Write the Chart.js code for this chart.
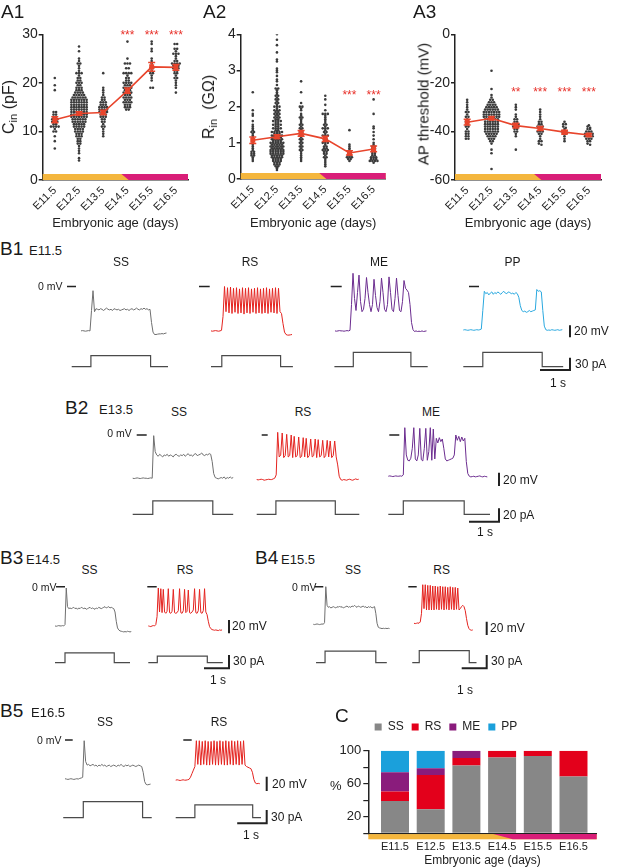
<!DOCTYPE html>
<html>
<head>
<meta charset="utf-8">
<script src="https://cdn.jsdelivr.net/npm/chart.js@4.4.1/dist/chart.umd.min.js"></script>
<style>
  html, body { margin: 0; padding: 0; background: #fff; }
  #fig { position: relative; width: 617px; height: 868px; overflow: hidden;
         font-family: 'Liberation Sans', Arial, sans-serif; color: #1a1a1a; }
  #fig canvas { position: absolute; }
  .t { position: absolute; white-space: nowrap; line-height: 1; }
  .t sub { font-size: 70%; vertical-align: -0.25em; }
</style>
</head>
<body>
<div id="fig"></div>
<script>
Chart.defaults.font.family = "'Liberation Sans', Arial, sans-serif";
Chart.defaults.color = '#222';

const ages = ['E11.5', 'E12.5', 'E13.5', 'E14.5', 'E15.5', 'E16.5'];

// A1 - input capacitance (pF), one array per age
const cin115 = [21, 19.5, 18.5, 14, 14, 13.5, 13.5, 13, 13, 12.5, 12.5, 12.5, 12, 12, 12, 11.5, 11.5, 11, 11, 11, 11, 10.5, 10, 10, 9, 8, 6.5];
const cin125 = [27.5, 26.5, 25, 24.5, 24, 24, 23.5, 23, 22.5, 22, 22, 22, 21.5, 21, 21, 20.5, 20.5, 20, 20, 20, 19.5, 19.5, 19, 19, 19, 18.5, 18.5, 18.5, 18, 18, 18, 18,
  17.5, 17.5, 17.5, 17.5, 17.5, 17, 17, 17, 17, 17, 17, 16.5, 16.5, 16.5, 16.5, 16.5, 16.5, 16.5, 16, 16, 16, 16, 16, 16, 16, 15.5, 15.5, 15.5, 15.5, 15.5, 15.5, 15.5,
  15, 15, 15, 15, 15, 15, 15, 14.5, 14.5, 14.5, 14.5, 14.5, 14.5, 14.5, 14, 14, 14, 14, 14, 14, 14, 13.5, 13.5, 13.5, 13.5, 13.5, 13.5, 13.5, 13, 13, 13, 13, 13, 13, 13,
  12.5, 12.5, 12.5, 12.5, 12.5, 12.5, 12, 12, 12, 12, 12, 12, 11.5, 11.5, 11.5, 11.5, 11.5, 11, 11, 11, 11, 11, 10.5, 10.5, 10.5, 10.5, 10, 10, 10, 10, 9.5, 9.5, 9.5,
  9, 9, 9, 8.5, 8.5, 8, 8, 7.5, 7.5, 7, 6.5, 6, 5.5, 4.5, 4];
const cin135 = [22, 19, 18.5, 18, 17.5, 17, 17, 16.5, 16.5, 16, 16, 16, 15.5, 15.5, 15.5, 15, 15, 15, 15, 14.5, 14.5, 14.5, 14.5, 14, 14, 14, 14, 13.5, 13.5, 13.5, 13, 13, 13, 12.5, 12.5, 12, 12, 11.5, 11, 11, 10.5, 10, 9.5, 9];
const cin145 = [28.5, 25, 24, 24, 24, 23, 23, 22, 22, 22, 22, 21.5, 21, 21, 20.5, 20.5, 20, 20, 20, 20, 19.5, 19.5, 19.5, 19, 19, 19, 19, 18.5, 18.5, 18.5, 18, 18, 18, 18, 17.5, 17.5, 17.5, 17, 17, 17, 17, 16.5, 16.5, 16.5, 16, 16, 16, 16, 15.5, 15.5, 15.5, 15, 15, 15, 14.5, 14.5];
const cin155 = [28.5, 28, 27, 26.5, 25, 24.5, 24, 23.5, 23, 23, 22.5, 22, 22, 21.5, 21, 20.5, 19, 19];
const cin165 = [28, 28, 27, 27, 26.5, 26, 26, 26, 25.5, 25, 24.5, 24.5, 24, 24, 24, 24, 23.5, 23.5, 23.5, 23, 23, 23, 22.5, 22.5, 22, 22, 21.5, 21, 21, 20.5, 20, 19.5, 19, 18];
const cinMean = [12.4, 13.7, 13.9, 18.4, 23.3, 23.2];
const cinSem = [0.6, 0.35, 0.45, 0.55, 0.9, 0.6];
const cinStars = ['', '', '', '***', '***', '***'];

// A2 - input resistance (GOhm)
const rin115 = [2.4, 1.9, 1.8, 1.75, 1.6, 1.5, 1.45, 1.4, 1.35, 1.3, 1.3, 1.25, 1.2, 1.15, 1.1, 1.05, 1.0, 0.95, 0.9, 0.85, 0.8, 0.75, 0.75, 0.7, 0.7, 0.65, 0.65, 0.6, 0.55, 0.5];
const rin125 = [4.0, 3.85, 3.7, 3.5, 3.3, 3.25, 3.05, 3.0, 2.95, 2.85, 2.75, 2.7, 2.6, 2.5, 2.5, 2.45, 2.4, 2.35, 2.3, 2.3, 2.25, 2.2, 2.2, 2.15, 2.1, 2.1, 2.05,
  2.0, 2.0, 2.0, 1.95, 1.9, 1.9, 1.9, 1.85, 1.85, 1.8, 1.8, 1.8, 1.75, 1.75, 1.7, 1.7, 1.7, 1.65, 1.65, 1.6, 1.6, 1.6, 1.6, 1.55, 1.55, 1.5, 1.5, 1.5, 1.5,
  1.45, 1.45, 1.4, 1.4, 1.4, 1.4, 1.35, 1.35, 1.3, 1.3, 1.3, 1.3, 1.3, 1.25, 1.25, 1.25, 1.2, 1.2, 1.2, 1.2, 1.2, 1.15, 1.15, 1.15, 1.15, 1.1, 1.1, 1.1, 1.1, 1.1,
  1.05, 1.05, 1.05, 1.05, 1.0, 1.0, 1.0, 1.0, 1.0, 1.0, 0.95, 0.95, 0.95, 0.95, 0.95, 0.9, 0.9, 0.9, 0.9, 0.9, 0.9, 0.85, 0.85, 0.85, 0.85, 0.85,
  0.8, 0.8, 0.8, 0.8, 0.8, 0.8, 0.75, 0.75, 0.75, 0.75, 0.75, 0.75, 0.7, 0.7, 0.7, 0.7, 0.7, 0.7, 0.65, 0.65, 0.65, 0.65, 0.65, 0.6, 0.6, 0.6, 0.6, 0.6,
  0.55, 0.55, 0.55, 0.55, 0.5, 0.5, 0.5, 0.5, 0.45, 0.45, 0.45, 0.4, 0.4, 0.4, 0.35, 0.35, 0.3, 0.25];
const rin135 = [2.7, 2.4, 2.1, 2.0, 2.0, 1.95, 1.9, 1.8, 1.75, 1.7, 1.7, 1.65, 1.6, 1.55, 1.5, 1.5, 1.45, 1.4, 1.4, 1.35, 1.3, 1.3, 1.25, 1.2, 1.2, 1.15, 1.1, 1.1, 1.05, 1.0, 1.0, 0.95, 0.9, 0.9, 0.85, 0.8, 0.8, 0.75, 0.7, 0.65, 0.6, 0.55, 0.5];
const rin145 = [2.3, 2.2, 2.05, 1.9, 1.8, 1.8, 1.8, 1.75, 1.7, 1.65, 1.6, 1.55, 1.5, 1.5, 1.45, 1.4, 1.4, 1.4, 1.35, 1.3, 1.3, 1.25, 1.2, 1.2, 1.2, 1.15, 1.1, 1.1, 1.05, 1.0, 1.0, 1.0, 0.95, 0.9, 0.9, 0.85, 0.85, 0.8, 0.8, 0.8, 0.75, 0.75, 0.7, 0.7, 0.65, 0.6, 0.6, 0.55, 0.5, 0.45, 0.4, 0.35];
const rin155 = [1.35, 0.95, 0.9, 0.85, 0.8, 0.75, 0.75, 0.7, 0.7, 0.65, 0.65, 0.6, 0.6, 0.6, 0.55, 0.55, 0.5];
const rin165 = [2.2, 1.8, 1.45, 1.4, 1.3, 1.2, 1.1, 1.0, 0.95, 0.9, 0.9, 0.85, 0.85, 0.8, 0.8, 0.75, 0.75, 0.7, 0.7, 0.65, 0.65, 0.6, 0.6, 0.6, 0.55, 0.55, 0.55, 0.5, 0.5, 0.5, 0.5, 0.45];
const rinMean = [1.07, 1.17, 1.26, 1.11, 0.72, 0.83];
const rinSem = [0.09, 0.05, 0.08, 0.07, 0.06, 0.08];
const rinStars = ['', '', '', '', '***', '***'];

// A3 - AP threshold (mV)
const ap115 = [-27, -28, -29, -30, -31, -32, -32, -33, -34, -34, -35, -36, -36, -37, -38, -38, -39, -40, -40, -41, -41, -42, -42, -43, -43];
const ap125 = [-15, -22.5, -25, -26, -27, -27, -28, -28, -28, -29, -29, -29, -29, -30, -30, -30, -30, -30, -31, -31, -31, -31, -31, -31,
  -32, -32, -32, -32, -32, -32, -32, -33, -33, -33, -33, -33, -33, -33, -34, -34, -34, -34, -34, -34, -34, -35, -35, -35, -35, -35, -35,
  -36, -36, -36, -36, -36, -36, -37, -37, -37, -37, -37, -37, -38, -38, -38, -38, -38, -38, -39, -39, -39, -39, -39, -39,
  -40, -40, -40, -40, -40, -40, -41, -41, -41, -41, -41, -42, -42, -42, -42, -43, -43, -43, -44, -44, -45, -47.5, -49, -55.5];
const ap135 = [-29, -30, -31, -33, -34, -35, -35, -36, -36, -37, -37, -37, -38, -38, -38, -39, -39, -40, -40, -41, -42, -47.5];
const ap145 = [-31, -32, -33, -34, -35, -36, -36, -37, -37, -38, -38, -38, -39, -39, -40, -40, -40, -41, -41, -42, -43, -44, -44, -45, -45.5];
const ap155 = [-36, -37, -37, -38, -38.5, -39, -40, -40, -40.5, -41, -41, -42, -43, -44];
const ap165 = [-37.5, -38, -38.5, -39, -39, -40, -40, -40, -41, -41, -41, -41, -42, -42, -42, -42, -43, -43, -43, -44, -44, -45, -45.5];
const apMean = [-36.2, -34.6, -37.6, -38.8, -40.3, -41.5];
const apSem = [1.2, 0.6, 1.0, 0.8, 0.8, 0.5];
const apStars = ['', '', '**', '***', '***', '***'];

// B - membrane potential traces (mV), sampled every 0.05 s
const dt = 0.05;
const ssB1 = [-74, -73.5, -74, -74.5, -74, -73.5, -74, -40, -7, -42,
  -37, -38, -39, -37, -38, -40, -38, -36, -38, -39, -38, -40, -37, -38, -39, -38, -40, -39, -38, -37,
  -39, -38, -40, -38, -37, -39, -38, -36, -38, -39, -37, -38, -36, -38, -37, -39, -38,
  -60, -76, -80, -80, -79.5, -79, -79, -78.5, -79, -78, -77.5];
const rsB1 = [-74, -74.5, -74, -73.5, -74, -74.5, -74, -73, -50, 0,
  -42, -2, -44, -1, -45, -3, -43, -2, -45, -4, -44, -2, -46, -3, -44, -2, -45, -4, -43, -3,
  -45, -2, -44, -4, -45, -3, -44, -2, -45, -4, -43, -3, -44, -2, -45, -3, -42,
  -45, -62, -76, -80, -81, -81, -80.5, -80];
const meB1 = [-74, -74.5, -74, -73.5, -74, -74, -74.5, -74, -73.5, -74, -73,
  -30, 22, -20, -40, -10, 19, -25, -42, -38, -20, 15, -10, -30, -42, -30, 12, -15, -35, -42, -25,
  14, -10, -38, -42, -30, 16, -10, -38, -42, -20, 14, -15, -40, -42, -25, 10, -3, -6, -10, -30,
  -60, -72, -75, -74, -75, -74.5, -75, -74, -75, -74.5, -74];
const ppB1 = [-72.5, -72, -72.5, -73, -72.5, -72, -72.5, -73, -72.5, -72, -72.5, -72, -71, -40, -8,
  -12, -10, -14, -11, -9, -13, -10, -12, -9, -11, -13, -10, -8, -11, -12, -9, -10, -12, -11, -13, -10, -12,
  -18, -32, -40, -42, -41, -43, -42, -40, -42, -41, -40, -39, -5, -8, -7, -9, -40, -66,
  -72, -73, -72.5, -73, -72, -72.5, -73, -72.5, -72, -73, -72.5, -72];
const ssB2 = [-65, -65.5, -65, -64.5, -65, -65.5, -65, -64.5, -65, -65, -65.5, -65, -64.5, -65, -1, -25,
  -30, -32, -29, -31, -33, -30, -31, -29, -32, -30, -31, -33, -30, -29, -31, -32, -30, -31, -29, -32,
  -30, -28, -31, -30, -32, -29, -28, -31, -30, -29, -27, -30, -31, -29, -30, -28, -29,
  -40, -58, -64, -65, -66, -65, -64, -65, -63, -66, -64, -65, -63, -65, -64];
const rsB2 = [-67, -67.5, -67, -66.5, -67, -68, -67.5, -67, -66.5, -67, -67, -66, -65, -60,
  4, -33, -30, 3, -34, -31, 1, -33, -31, 0, -34, -2, -33, -31, -3, -34, -32, -4, -33, -5, -34, -31,
  -6, -33, -31, -6, -34, -7, -33, -31, -8, -34, -31, -8, -33, -9, -34, -31, -9, -33, -45, -62,
  -67, -68, -67, -67.5, -68, -67, -66.5, -67.5, -68, -67, -66, -67, -66.5];
const meB2 = [-62, -61.5, -62, -62.5, -62, -61.5, -62, -62, -61.5, -62, -60,
  11, -30, -38, -39, -35, -20, 11, -36, -39, -30, 10, -37, -39, -20, 10, -38, -25, 11, -38, 9, -36,
  -5, -12, -4, -10, -6, -20, -36, -39, -38, -37, -36, -35, -30, 0, -8, -2, -10, -3, -9, -5, -40, -58,
  -62, -63, -62.5, -62, -63, -62.5, -62, -61.5, -62.5, -63, -62, -62.5, -63];
const ssB3 = [-59, -59.5, -59, -58.5, -59, -59, -58.5, -59, -57, -2, -30,
  -33, -32, -33, -32, -31, -33, -32, -34, -32, -33, -31, -32, -33, -32, -34, -33, -32, -31, -33, -32,
  -33, -34, -32, -33, -31, -32, -33, -32, -31, -30, -32, -31, -30, -32, -31, -32, -33,
  -38, -52, -62, -65, -66.5, -67, -67.5, -68, -67.5, -68, -67, -67.5, -68, -67.5];
const rsB3 = [-59, -59.5, -60, -59, -58.5, -59, -57, -45, -2, -38, -3, -39, -4, -38, -40, -37,
  -3, -39, -40, -37, -4, -39, -40, -39, -36, -3, -39, -40, -36, -4, -39, -37, -5, -39, -40, -38, -35,
  -3, -39, -40, -36, -4, -39, -40, -36, -3, -38, -42, -52, -60,
  -63, -64.5, -65, -65.5, -65, -65.5, -66, -65, -65.5, -65];
const ssB4 = [-56.5, -57, -56.5, -56, -56.5, -57, -56.5, -56, -56.5, -54, 0, -28,
  -31, -30, -32, -31, -30, -31, -32, -30, -31, -29, -31, -30, -32, -31, -30, -29, -31, -30, -31, -29,
  -30, -28, -30, -31, -29, -30, -31, -30, -29, -31, -30, -32, -30, -31, -30, -32, -31, -30,
  -40, -55, -61, -62, -62.5, -63, -62.5, -63, -62.5, -63, -62.5, -63];
const rsB4 = [-55, -55.5, -55, -54.5, -55, -53, -40, 3, -33, 3, -35, 2, -35, 2, -35, 1, -35, 1, -34, 0,
  -35, 1, -34, 0, -35, 0, -34, -1, -35, 0, -34, -1, -35, -1, -34, -2, -35,
  -33, -30, -28, -30, -36, -48, -58, -63, -65, -65.5, -65];
const ssB5 = [-54, -54.5, -55, -54.5, -54, -54.5, -55, -54.5, -54, -54.5, -53.5, -53, -52, -1, -30,
  -35, -34, -36, -35, -34, -36, -35, -37, -35, -36, -34, -36, -35, -37, -36, -35, -37, -36, -35,
  -36, -37, -35, -36, -34, -36, -37, -35, -36, -35, -37, -36, -35, -36, -37, -36, -35, -36, -37,
  -45, -58, -62, -62.5, -62, -61.5];
const rsB5 = [-56, -55.5, -56, -56.5, -56, -55.5, -56, -56, -55.5, -55, -52, -47, -42, -37,
  -1, -34, -1, -35, -2, -34, -1, -35, -2, -35, -2, -34, -1, -35, -2, -35, -1, -34, -2, -35,
  -1, -35, -2, -34, -1, -35, -2, -34, -1, -35, -2, -34, -1,
  -35, -37, -38, -39, -40, -45, -55, -60, -61, -60.5, -61];

// B - current steps: [start, on, off, end] in s, amplitude in pA
const stepB1 = [[-0.31, 0.33, 2.32, 2.9], [0, 0.36, 2.32, 2.73], [-0.02, 0.61, 2.53, 3.09], [0, 0.65, 2.63, 3.33]];
const ampB1 = [27, 27, 35, 35];
const stepB2 = [[0, 0.67, 2.67, 3.35], [0, 0.64, 2.62, 3.42], [0, 0.5, 2.53, 3.39]];
const ampB2 = [20, 20, 20];
const stepB3 = [[0, 0.4, 2.37, 3.0], [0, 0.36, 2.36, 2.98]];
const ampB3 = [22, 15];
const stepB4 = [[0.11, 0.47, 2.5, 2.94], [-0.07, 0.21, 2.21, 2.5]];
const ampB4 = [26, 27];
const stepB5 = [[-0.06, 0.62, 2.63, 2.94], [0, 0.65, 2.61, 2.89]];
const ampB5 = [36, 29];

// C - firing pattern proportions (%)
const ssPct = [39, 29, 82, 91.7, 93.7, 68.7];
const rsPct = [11.5, 41.7, 9.3, 8.3, 6.3, 31.3];
const mePct = [23.5, 8, 8.7, 0, 0, 0];
const ppPct = [26, 21.3, 0, 0, 0, 0];
const cTicks = [100, 60, 20];

const RED = '#e8452c';
const STAR = '#e8312a';
const YELLOW = '#f4b63d';
const MAGENTA = '#d91e78';
const COL = { SS: '#6f6f6f', RS: '#e4231f', ME: '#6b2c8f', PP: '#29a8df' };

const fig = document.getElementById('fig');

function canvasAt(l, t, w, h) {
  const c = document.createElement('canvas');
  c.width = w; c.height = h;
  c.style.left = l + 'px'; c.style.top = t + 'px';
  c.style.width = w + 'px'; c.style.height = h + 'px';
  fig.appendChild(c);
  return c;
}

function text(html, x, cy, size, align, rot) {
  const d = document.createElement('div');
  d.className = 't';
  d.innerHTML = html;
  d.style.left = x + 'px';
  d.style.top = cy + 'px';
  d.style.fontSize = size + 'px';
  const tx = align === 'c' ? '-50%' : align === 'r' ? '-100%' : '0';
  d.style.transform = 'translate(' + tx + ',-50%)' + (rot ? ' rotate(-90deg)' : '');
  fig.appendChild(d);
}

// spread dots of one group in horizontal rows (beeswarm style)
function swarm(values, cat, bin, step) {
  const rows = {};
  values.forEach(v => {
    const k = Math.round(v / bin);
    (rows[k] = rows[k] || []).push(v);
  });
  const pts = [];
  Object.values(rows).forEach(row => {
    row.forEach((v, j) => pts.push({ x: cat + (j - (row.length - 1) / 2) * step, y: v }));
  });
  return pts;
}

// one tick per age group
const ageTicks = s => { s.ticks = ages.map((a, i) => ({ value: i })); };

// stage strip, error bars, significance stars
const panelMarks = {
  id: 'panelMarks',
  beforeDatasetsDraw(chart, args, o) {
    const { ctx, chartArea: a, scales: { x } } = chart;
    const y0 = a.bottom + o.strip[0], y1 = a.bottom + o.strip[1];
    const xt = x.getPixelForValue(o.switchAt[0]), xb = x.getPixelForValue(o.switchAt[1]);
    ctx.save();
    ctx.fillStyle = YELLOW;
    ctx.fillRect(a.left, y0, a.right - a.left, y1 - y0);
    ctx.fillStyle = MAGENTA;
    ctx.beginPath();
    ctx.moveTo(xt, y0); ctx.lineTo(a.right, y0); ctx.lineTo(a.right, y1); ctx.lineTo(xb, y1);
    ctx.closePath(); ctx.fill();
    ctx.restore();
  },
  afterDatasetsDraw(chart, args, o) {
    if (!o.means) return;
    const { ctx, scales: { x, y } } = chart;
    ctx.save();
    ctx.strokeStyle = RED; ctx.lineWidth = 1.5;
    o.means.forEach((m, i) => {
      const px = x.getPixelForValue(i);
      const yt = y.getPixelForValue(m + o.sems[i]), yb = y.getPixelForValue(m - o.sems[i]);
      ctx.beginPath();
      ctx.moveTo(px, yt); ctx.lineTo(px, yb);
      ctx.moveTo(px - 3.5, yt); ctx.lineTo(px + 3.5, yt);
      ctx.moveTo(px - 3.5, yb); ctx.lineTo(px + 3.5, yb);
      ctx.stroke();
    });
    ctx.fillStyle = STAR;
    ctx.font = "12px 'Liberation Sans', Arial, sans-serif";
    ctx.textAlign = 'center'; ctx.textBaseline = 'middle';
    o.stars.forEach((s, i) => {
      if (s) ctx.fillText(s, x.getPixelForValue(i), y.getPixelForValue(o.starY) + 3);
    });
    ctx.restore();
  }
};

function scatterPanel(b, groups, means, sems, stars) {
  const dots = [];
  groups.forEach((vals, c) => dots.push(...swarm(vals, c, b.bin, 0.105)));
  new Chart(canvasAt(b.l, b.t, b.w, b.h), {
    type: 'scatter',
    data: {
      datasets: [
        { data: means.map((m, i) => ({ x: i, y: m })), showLine: true, borderColor: RED, backgroundColor: RED,
          borderWidth: 1.6, pointStyle: 'rect', pointRadius: 3.5, pointBorderWidth: 0, order: 0 },
        { data: dots, backgroundColor: '#3b3b3b', borderWidth: 0, pointRadius: 1.3, order: 1 }
      ]
    },
    options: {
      animation: false, responsive: false, events: [],
      layout: { padding: { top: b.pt, right: b.pr, left: 0, bottom: 0 } },
      plugins: {
        legend: { display: false }, tooltip: { enabled: false },
        panelMarks: { strip: [-6, 0], switchAt: [2.75, 3.05], means, sems, stars, starY: b.starY }
      },
      scales: {
        x: {
          type: 'linear', min: -0.5, max: 5.5,
          afterBuildTicks: ageTicks,
          afterFit: s => { s.height = b.xh; },
          grid: { drawOnChartArea: false, drawTicks: false },
          border: { color: '#222', width: 1.5 },
          ticks: { autoSkip: false, minRotation: 45, maxRotation: 45,
                   padding: 4, font: { size: 11 }, color: '#222', callback: v => ages[v] },
          title: { display: true, text: 'Embryonic age (days)', font: { size: 13 }, color: '#222', padding: { top: 2, bottom: 2 } }
        },
        y: {
          min: b.ymin, max: b.ymax,
          afterFit: s => { s.width = b.yw; },
          ticks: { stepSize: b.ystep, autoSkip: false, font: { size: 14 }, color: '#222', padding: 1 },
          grid: { drawOnChartArea: false, tickLength: 4, color: '#222', lineWidth: 1.5 },
          border: { color: '#222', width: 1.5 }
        }
      }
    },
    plugins: [panelMarks]
  });
}

scatterPanel({ l: 0, t: 20, w: 200, h: 213, pt: 14.3, pr: 12, yw: 42.7, xh: 53, ymin: 0, ymax: 30, ystep: 10, bin: 0.5, starY: 30.4 },
  [cin115, cin125, cin135, cin145, cin155, cin165], cinMean, cinSem, cinStars);
scatterPanel({ l: 200, t: 20, w: 200, h: 213, pt: 14.3, pr: 14.3, yw: 40.7, xh: 54, ymin: 0, ymax: 4, ystep: 1, bin: 0.05, starY: 2.38 },
  [rin115, rin125, rin135, rin145, rin155, rin165], rinMean, rinSem, rinStars);
scatterPanel({ l: 400, t: 20, w: 217, h: 213, pt: 14.3, pr: 16, yw: 55, xh: 53, ymin: -60, ymax: 0, ystep: 20, bin: 1, starY: -22.9 },
  [ap115, ap125, ap135, ap145, ap155, ap165], apMean, apSem, apStars);

// 0 mV markers and scale bars for trace rows
const traceMarks = {
  id: 'traceMarks',
  afterDatasetsDraw(chart, args, o) {
    const { ctx, scales: { x, v, i } } = chart;
    ctx.save();
    ctx.strokeStyle = '#222';
    ctx.lineWidth = 1.5;
    ctx.beginPath();
    const y0 = v.getPixelForValue(0);
    o.dashes.forEach(([a, b]) => { ctx.moveTo(a - o.left, y0); ctx.lineTo(b - o.left, y0); });
    ctx.stroke();
    ctx.lineWidth = 2;
    ctx.beginPath();
    o.bars.forEach(bar => {
      const bx = bar.x - o.left;
      ctx.moveTo(bx, v.getPixelForValue(bar.v0));
      ctx.lineTo(bx, v.getPixelForValue(bar.v0 + 20));
      const iy = i.getPixelForValue(bar.i0);
      ctx.moveTo(bx, i.getPixelForValue(bar.i0 + bar.iLen));
      ctx.lineTo(bx, iy);
      ctx.lineTo(bx - (x.getPixelForValue(1) - x.getPixelForValue(0)), iy);
    });
    ctx.stroke();
    ctx.restore();
  }
};

function traceRow(r) {
  const ds = [];
  r.cells.forEach(c => {
    const t0 = c.x0 / r.ts;
    ds.push({ data: c.v.map((y, k) => ({ x: t0 + k * dt, y })), yAxisID: 'v', borderColor: c.color, borderWidth: 1 });
    ds.push({ data: c.st.map((t, k) => ({ x: t0 + t, y: k === 1 ? c.amp : 0 })), yAxisID: 'i',
              borderColor: '#4a4a4a', borderWidth: 1.2, stepped: true });
  });
  const vMax = (r.vZero - r.top) / r.vs;
  const iMax = (r.iBase - r.top) / r.is;
  new Chart(canvasAt(r.left, r.top, r.w, r.h), {
    type: 'scatter',
    data: { datasets: ds },
    options: {
      animation: false, responsive: false, events: [],
      datasets: { scatter: { showLine: true, pointRadius: 0 } },
      layout: { padding: 0 },
      plugins: { legend: { display: false }, tooltip: { enabled: false },
                 traceMarks: { dashes: r.dashes, bars: r.bars, left: r.left } },
      scales: {
        x: { type: 'linear', display: false, min: r.left / r.ts, max: (r.left + r.w) / r.ts },
        v: { axis: 'y', type: 'linear', display: false, min: vMax - r.h / r.vs, max: vMax },
        i: { axis: 'y', type: 'linear', display: false, min: iMax - r.h / r.is, max: iMax }
      }
    },
    plugins: [traceMarks]
  });
}

traceRow({
  left: 0, top: 265, w: 617, h: 112, ts: 30, vZero: 286.5, vs: 0.6, iBase: 366.7, is: 0.41,
  cells: [
    { x0: 81, v: ssB1, color: COL.SS, st: stepB1[0], amp: ampB1[0] },
    { x0: 211, v: rsB1, color: COL.RS, st: stepB1[1], amp: ampB1[1] },
    { x0: 335, v: meB1, color: COL.ME, st: stepB1[2], amp: ampB1[2] },
    { x0: 463.3, v: ppB1, color: COL.PP, st: stepB1[3], amp: ampB1[3] }
  ],
  dashes: [[67, 76], [199, 209.7], [330.7, 341.7], [469, 479]],
  bars: [{ x: 570, v0: -84.7, i0: -8, iLen: 30 }]
});
traceRow({
  left: 0, top: 422, w: 617, h: 105, ts: 30, vZero: 435, vs: 0.665, iBase: 514.3, is: 0.67,
  cells: [
    { x0: 132.7, v: ssB2, color: COL.SS, st: stepB2[0], amp: ampB2[0] },
    { x0: 256.7, v: rsB2, color: COL.RS, st: stepB2[1], amp: ampB2[1] },
    { x0: 388.3, v: meB2, color: COL.ME, st: stepB2[2], amp: ampB2[2] }
  ],
  dashes: [[136.7, 146.7], [261.7, 267.7], [389.3, 399.3]],
  bars: [{ x: 499, v0: -76.7, i0: -11, iLen: 20 }]
});
traceRow({
  left: 0, top: 578, w: 617, h: 95, ts: 25, vZero: 586.7, vs: 0.665, iBase: 662.7, is: 0.444,
  cells: [
    { x0: 55, v: ssB3, color: COL.SS, st: stepB3[0], amp: ampB3[0] },
    { x0: 148.3, v: rsB3, color: COL.RS, st: stepB3[1], amp: ampB3[1] },
    { x0: 313.3, v: ssB4, color: COL.SS, st: stepB4[0], amp: ampB4[0] },
    { x0: 414, v: rsB4, color: COL.RS, st: stepB4[1], amp: ampB4[1] }
  ],
  dashes: [[56, 65], [147.3, 156.7], [315, 323.3], [408.3, 416.7]],
  bars: [{ x: 229, v0: -70, i0: -12.6, iLen: 30 }, { x: 486.7, v0: -72.6, i0: -12.6, iLen: 30 }]
});
traceRow({
  left: 0, top: 733, w: 300, h: 95, ts: 29.5, vZero: 740, vs: 0.717, iBase: 817.7, is: 0.444,
  cells: [
    { x0: 65, v: ssB5, color: COL.SS, st: stepB5[0], amp: ampB5[0] },
    { x0: 175.7, v: rsB5, color: COL.RS, st: stepB5[1], amp: ampB5[1] }
  ],
  dashes: [[65, 72.7], [183.3, 191.7]],
  bars: [{ x: 266.7, v0: -71.1, i0: -12.6, iLen: 30 }]
});

// C - stacked bars
const legendLift = {
  id: 'legendLift',
  afterLayout(chart, args, o) {
    const l = chart.legend;
    if (!l) return;
    const h = l.bottom - l.top;
    l.top = o.top; l.bottom = o.top + h;
  }
};
new Chart(canvasAt(290, 700, 327, 168), {
  type: 'bar',
  data: {
    datasets: [
      { label: 'SS', data: ssPct.map((v, i) => ({ x: i, y: v })), backgroundColor: '#878787' },
      { label: 'RS', data: rsPct.map((v, i) => ({ x: i, y: v })), backgroundColor: '#e3001b' },
      { label: 'ME', data: mePct.map((v, i) => ({ x: i, y: v })), backgroundColor: '#8a1c7c' },
      { label: 'PP', data: ppPct.map((v, i) => ({ x: i, y: v })), backgroundColor: '#1ba0db' }
    ]
  },
  options: {
    animation: false, responsive: false, events: [],
    datasets: { bar: { barPercentage: 0.98, categoryPercentage: 0.8, borderWidth: 0 } },
    layout: { padding: { top: 20.7, left: 5.3, right: 20.3, bottom: 0 } },
    plugins: {
      tooltip: { enabled: false },
      legend: { display: true, position: 'top',
                labels: { boxWidth: 7, boxHeight: 7, padding: 8, font: { size: 12 }, color: '#222' } },
      legendLift: { top: 13 },
      panelMarks: { strip: [0.8, 6], switchAt: [2.75, 3.3] }
    },
    scales: {
      x: {
        type: 'linear', stacked: true, offset: false, min: -0.748, max: 5.65,
        afterBuildTicks: ageTicks,
        afterFit: s => { s.height = 34.7; },
        grid: { drawOnChartArea: false, drawTicks: false, offset: false },
        border: { color: '#222', width: 1.5 },
        ticks: { autoSkip: false, maxRotation: 0, padding: 7,
                 font: { size: 11 }, color: '#222', callback: v => ages[v] },
        title: { display: true, text: 'Embryonic age (days)', font: { size: 12 }, color: '#222', padding: { top: 1, bottom: 0 } }
      },
      y: {
        stacked: true, min: 0, max: 100,
        afterFit: s => { s.width = 73; },
        ticks: { stepSize: 20, autoSkip: false, font: { size: 13 }, color: '#222', padding: 2,
                 callback: v => cTicks.includes(v) ? String(v) : '' },
        grid: { drawOnChartArea: false, tickLength: 5, color: '#222', lineWidth: 1.2 },
        border: { color: '#222', width: 1.5 }
      }
    }
  },
  plugins: [panelMarks, legendLift]
});

// text labels
[['A1', 1, 11], ['A2', 203, 11], ['A3', 413, 11], ['B1', 0, 248], ['B2', 65, 407],
 ['B3', 0, 557], ['B4', 255, 557], ['B5', 0, 710], ['C', 335, 715]].forEach(([s, x, y]) => text(s, x, y, 19, 'l'));
[['E11.5', 29, 250], ['E13.5', 99, 409], ['E14.5', 26, 559], ['E15.5', 281, 559], ['E16.5', 31, 712]]
  .forEach(([s, x, y]) => text(s, x, y, 13, 'l'));
[['SS', 121, 262], ['RS', 250, 262], ['ME', 379, 262], ['PP', 512.5, 262],
 ['SS', 179, 412], ['RS', 303, 412], ['ME', 431, 412],
 ['SS', 89.5, 570], ['RS', 185, 570], ['SS', 353, 570], ['RS', 441.7, 570],
 ['SS', 105, 722], ['RS', 219, 722]].forEach(([s, x, y]) => text(s, x, y, 12, 'c'));
text('0 mV', 38, 286, 10.5, 'l');
text('0 mV', 131.7, 432.5, 10.5, 'r');
text('0 mV', 32, 587, 10.5, 'l');
text('0 mV', 292, 587, 10.5, 'l');
text('0 mV', 37, 740, 10.5, 'l');
[['20 mV', 574, 331], ['30 pA', 575, 364], ['20 mV', 503, 480], ['20 pA', 503, 515],
 ['20 mV', 232, 626], ['30 pA', 233, 661], ['20 mV', 490, 628], ['30 pA', 491, 661],
 ['20 mV', 272, 784], ['30 pA', 271, 817]].forEach(([s, x, y]) => text(s, x, y, 12, 'l'));
[['1 s', 558, 383], ['1 s', 485, 532], ['1 s', 218, 680], ['1 s', 465, 690], ['1 s', 251, 835]]
  .forEach(([s, x, y]) => text(s, x, y, 12, 'c'));
text('C<sub>in</sub> (pF)', 10, 107, 16, 'c', true);
text('R<sub>in</sub>&nbsp; (G&Omega;)', 210, 107, 16, 'c', true);
text('AP threshold (mV)', 423, 104, 15, 'c', true);
text('%', 330, 785, 13, 'l');
</script>
</body>
</html>
